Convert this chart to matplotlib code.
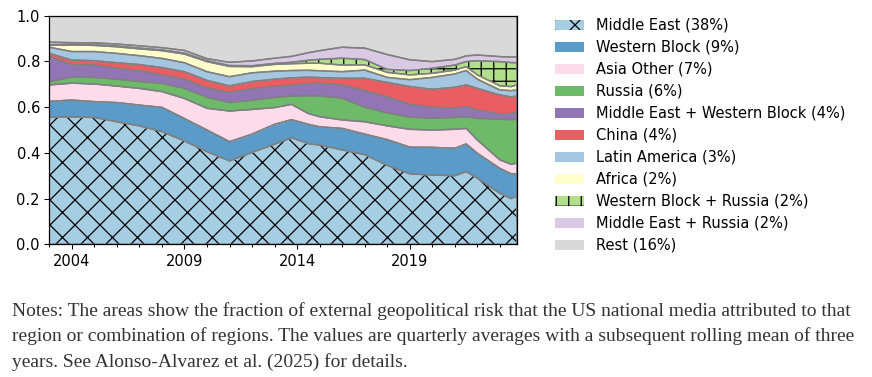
import numpy as np
import matplotlib.pyplot as plt
from matplotlib.ticker import MultipleLocator

plt.rcParams['font.family'] = 'DejaVu Sans'
plt.rcParams['hatch.linewidth'] = 0.6

# time points (year fractions)
years = [2003, 2004, 2005, 2006, 2007, 2008, 2009, 2010, 2011, 2012, 2013,
         2013.75, 2014.5, 2015, 2016, 2017, 2018, 2019, 2020, 2021, 2021.5,
         2022, 2023, 2023.5, 2023.75]

# shares of external geopolitical risk per region (stacked bottom to top)
middle_east = [.555, .557, .555, .536, .518, .493, .452, .405, .365, .402, .438, .466, .440,
               .434, .413, .392, .345, .308, .303, .300, .318, .289, .223, .200, .210]
western_block = [.070, .074, .069, .084, .091, .106, .098, .095, .084, .080, .087, .079, .085,
                 .080, .094, .090, .113, .117, .121, .120, .121, .109, .109, .108, .098]
asia_other = [.072, .074, .077, .072, .073, .069, .088, .095, .134, .108, .073, .067, .047,
              .044, .037, .054, .060, .078, .076, .083, .068, .058, .037, .042, .047]
russia = [.014, .026, .029, .030, .030, .036, .044, .048, .037, .040, .044, .036, .078,
          .091, .095, .064, .057, .053, .051, .052, .051, .095, .178, .195, .192]
me_wb = [.110, .055, .054, .048, .046, .037, .040, .041, .044, .050, .048, .047, .052,
         .055, .058, .072, .070, .056, .048, .040, .044, .036, .023, .027, .028]
china = [.014, .020, .019, .024, .028, .032, .033, .033, .029, .032, .032, .033, .029,
         .025, .029, .054, .063, .078, .079, .092, .095, .095, .083, .073, .073]
latin_america = [.027, .037, .040, .041, .039, .040, .039, .038, .040, .038, .035, .032, .030,
                 .030, .029, .036, .022, .030, .052, .058, .063, .040, .022, .027, .027]
africa = [.008, .029, .027, .029, .030, .034, .038, .044, .045, .027, .030, .030, .031,
          .033, .029, .023, .022, .021, .018, .017, .017, .019, .018, .018, .022]
wb_russia = [.003, .003, .003, .003, .003, .003, .004, .004, .004, .004, .004, .006, .013,
             .017, .030, .023, .013, .019, .022, .022, .022, .062, .106, .105, .097]
me_russia = [.011, .007, .008, .009, .010, .010, .012, .009, .014, .021, .023, .026, .033,
             .038, .048, .050, .065, .047, .029, .025, .025, .025, .022, .024, .026]
rest = [.116, .118, .119, .124, .132, .140, .152, .188, .204, .198, .186, .178, .162,
        .153, .138, .142, .170, .193, .201, .191, .176, .172, .179, .181, .180]

labels = ['Middle East (38%)', 'Western Block (9%)', 'Asia Other (7%)', 'Russia (6%)',
          'Middle East + Western Block (4%)', 'China (4%)', 'Latin America (3%)',
          'Africa (2%)', 'Western Block + Russia (2%)', 'Middle East + Russia (2%)',
          'Rest (16%)']
colors = ['#a6cee3', '#5b9bc9', '#fcdbeb', '#6dbb69', '#9275b5', '#e95d63',
          '#a5c6e0', '#ffffcc', '#b2df8a', '#d9c9e4', '#d9d9d9']
hatches = ['xx', None, None, None, None, None, None, None, '++', None, None]

series = [middle_east, western_block, asia_other, russia, me_wb, china,
          latin_america, africa, wb_russia, me_russia, rest]

fig = plt.figure(figsize=(872 / 150, 377 / 150), dpi=150)
ax = fig.add_axes([0.0565, 0.352, 0.5362, 0.6064])

# filled layers with black hatching, then gray outlines on top
polys = ax.stackplot(years, *series, labels=labels, colors=colors,
                     edgecolor='black', linewidth=0)
for p, h in zip(polys, hatches):
    if h:
        p.set_hatch(h)
ax.stackplot(years, *series, colors=['none'] * len(series),
             edgecolor='#808080', linewidth=0.7)

ax.set_xlim(years[0], years[-1])
ax.set_ylim(0, 1)
ax.xaxis.set_major_locator(MultipleLocator(5, offset=4))
ax.xaxis.set_minor_locator(MultipleLocator(1))
ax.yaxis.set_major_locator(MultipleLocator(0.2))
ax.yaxis.set_major_formatter(lambda v, pos: f'{v:.1f}')
ax.xaxis.set_major_formatter(lambda v, pos: f'{int(round(v))}')
ax.tick_params(labelsize=7, length=2.5, width=0.5, pad=2)
ax.tick_params(which='minor', length=1.5, width=0.5)
for s in ax.spines.values():
    s.set_linewidth(0.6)

fig.legend(loc='upper left', bbox_to_anchor=(555 / 872, 1 - 18 / 377),
           frameon=False, fontsize=7, borderpad=0, labelspacing=0.48,
           handlelength=2.0, handletextpad=0.8, borderaxespad=0)

notes = ['Notes: The areas show the fraction of external geopolitical risk that the US national media attributed to that',
         'region or combination of regions. The values are quarterly averages with a subsequent rolling mean of three',
         'years. See Alonso-Alvarez et al. (2025) for details.']
for i, line in enumerate(notes):
    fig.text(12 / 872, 1 - (311 + 25.5 * i) / 377, line, family='Liberation Serif',
             fontsize=9.35, color='#333333', va='center', ha='left')

fig.savefig('out.png', dpi=150)
